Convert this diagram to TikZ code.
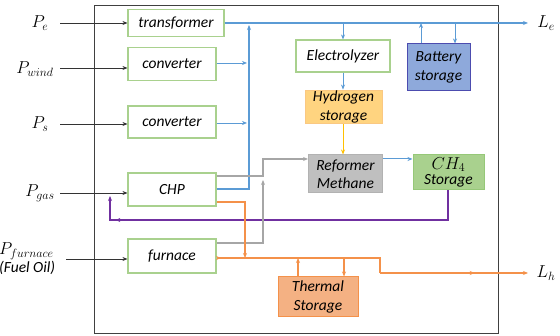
\documentclass[tikz,border=0pt]{standalone}
\usepackage{fix-cm}
\usepackage{fontspec}
\setmainfont{Carlito}
\usetikzlibrary{arrows.meta,decorations.markings}
\definecolor{boxgreen}{HTML}{A9D18E}
\definecolor{busblue}{HTML}{5B9BD5}
\definecolor{heatorange}{HTML}{F4914A}
\definecolor{gasgray}{HTML}{A6A6A6}
\definecolor{ch4purple}{HTML}{7030A0}
\definecolor{h2yellow}{HTML}{FFC000}
\tikzset{
  unit/.style={draw=boxgreen, line width=1.1pt, fill=white, font=\fontsize{15.5}{18.5}\selectfont\itshape, align=center, inner sep=1pt},
  store/.style={line width=1pt, font=\fontsize{15.5}{18.5}\selectfont\itshape, align=center, inner sep=1pt},
  lbl/.style={font=\fontsize{17.28}{20}\selectfont, inner sep=1pt},
  note/.style={font=\fontsize{15.5}{18}\selectfont\itshape, inner sep=1pt},
  tip/.style={-{Stealth[length=5pt,width=4pt]}},
  feed/.style={tip, draw=black!80, line width=0.6pt},
  bus/.style={draw=busblue, line width=1.3pt},
  thinbus/.style={tip, draw=busblue, line width=0.7pt},
  heat/.style={draw=heatorange, line width=1.2pt},
  gas/.style={draw=gasgray, line width=1.2pt},
  midtip/.style={postaction={decorate}, decoration={markings, mark=at position #1 with {\arrow{Stealth[length=5pt,width=4pt]}}}}
}
\begin{document}
\begin{tikzpicture}[x=1pt,y=-1pt]
\useasboundingbox (0,0) rectangle (560,336);
% system boundary
\draw[black!75, line width=0.9pt] (94,5) rectangle (498,333);

% conversion units
\node[unit, minimum width=96pt, minimum height=27pt] (tr) at (176,23) {transformer};
\node[unit, minimum width=88pt, minimum height=33pt] (cw) at (172,64) {converter};
\node[unit, minimum width=88pt, minimum height=32pt] (cs) at (172,122) {converter};
\node[unit, minimum width=88pt, minimum height=33pt] (chp) at (172,189.5) {CHP};
\node[unit, minimum width=88pt, minimum height=34pt] (fu) at (172,256) {furnace};
\node[unit, minimum width=94pt, minimum height=32pt] (el) at (343,56) {Electrolyzer};

% storages and reformer
\node[store, draw=blue!55!black!70, fill={rgb,255:red,142;green,169;blue,219}, minimum width=63pt, minimum height=47pt] (bat) at (438.5,67.5) {Battery\\storage};
\node[store, draw={rgb,255:red,250;green,200;blue,130}, fill={rgb,255:red,255;green,212;blue,128}, minimum width=77pt, minimum height=32pt] (h2) at (343.5,107) {Hydrogen\\storage};
\node[store, draw=gray!60, fill={rgb,255:red,191;green,191;blue,191}, minimum width=74pt, minimum height=38pt] (ref) at (345.5,174) {Reformer\\Methane};
\node[store, draw={rgb,255:red,150;green,200;blue,120}, fill=boxgreen, minimum width=71pt, minimum height=35pt] (ch4) at (448.5,172.5) {{\fontsize{17.28}{18}\selectfont$CH_4$}\\[-3pt]Storage};
\node[store, draw=heatorange, fill={rgb,255:red,244;green,177;blue,131}, minimum width=80pt, minimum height=40pt] (th) at (318,297) {Thermal\\Storage};

% inputs and loads
\node[lbl] (pe) at (40,23) {$P_e$};
\node[lbl] (pw) at (35,69) {$P_{wind}$};
\node[lbl] (ps) at (40,124) {$P_s$};
\node[lbl] (pg) at (40,193) {$P_{gas}$};
\node[lbl, anchor=west] (pf) at (-2,251) {$P_{furnace}$};
\node[note, anchor=west] (fo) at (-2,268) {(Fuel Oil)};
\node[lbl] (le) at (546,23) {$L_e$};
\node[lbl] (lh) at (546,273) {$L_h$};

% input feeds
\draw[feed] (60,23) -- (pe -| tr.west);
\draw[feed] (60,68) -- (cw.west |- 0,68);
\draw[feed] (60,124) -- (cs.west |- 0,124);
\draw[feed] (60,193) -- (chp.west |- 0,193);
\draw[feed] (66,259) -- (fu.west |- 0,259);

% electricity bus
\coordinate (busx) at (249,0);
\draw[bus, tip] (tr.east) -- (528,23);
\draw[bus, tip] (chp.east |- 0,189) -- (busx |- 0,189) -- (busx |- 0,25);
\draw[thinbus] (cw.east |- 0,63) -- ([xshift=-2pt]busx |- 0,63);
\draw[thinbus] (cs.east |- 0,123) -- ([xshift=-2pt]busx |- 0,123);
\draw[thinbus] (el.north |- 0,23) -- (el.north);
\draw[thinbus] (bat.north -| 421,0) -- (421,23);
\draw[thinbus] (455,23) -- (bat.north -| 455,0);

% hydrogen / methane chain
\draw[thinbus] (el.south) -- (el.south |- h2.north);
\draw[tip, draw=h2yellow, line width=0.9pt] (h2.south -| el.south) -- (ref.north -| el.south);
\draw[thinbus, line width=1pt] (ref.east |- 0,159) -- (ch4.west |- 0,159);
\draw[ch4purple, line width=1.2pt, tip, midtip=0.925] (ch4.south -| 448,0) -- (448,220) -- (110,220) -- (110,196);

% gas to reformer
\coordinate (gx) at (263,0);
\draw[gas, tip] (chp.east |- 0,176) -- (gx |- 0,176) -- (gx |- 0,159) -- (ref.west |- 0,159);
\draw[gas, tip] (fu.east |- 0,243) -- (gx |- 0,243) -- (gx |- 0,180);

% heat network
\draw[heat, tip] (chp.east |- 0,202) -- (245,202) -- (245,258);
\draw[heat, midtip=0.025] (fu.east |- 0,258) -- (380,258) -- (380,273);
\draw[heat, tip, midtip=0.64] (380,273) -- (528,273);
\draw[heat, tip] (th.north -| 298,0) -- (298,258);
\draw[heat, tip] (344,258) -- (th.north -| 344,0);
\end{tikzpicture}
\end{document}
